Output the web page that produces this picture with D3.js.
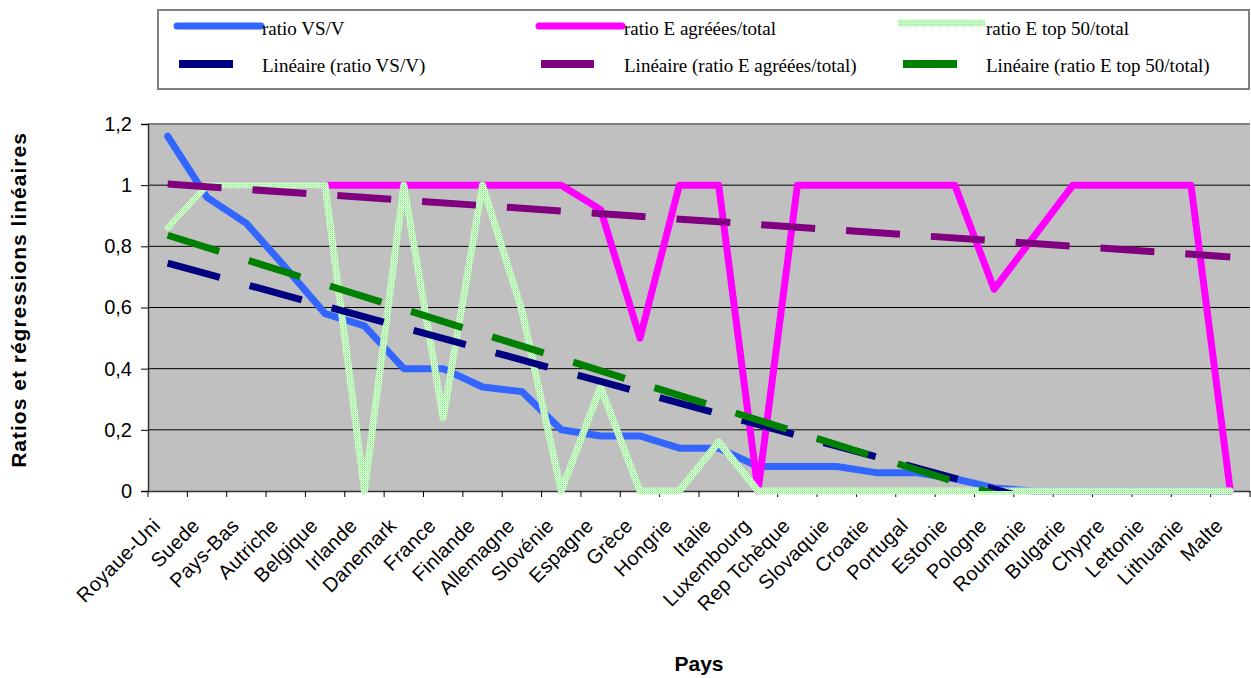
<!DOCTYPE html>
<html><head><meta charset="utf-8">
<script src="https://cdn.jsdelivr.net/npm/d3@7"></script>
<style>body{margin:0;background:#fff} svg{display:block}</style>
</head><body>
<svg id="c" width="1251" height="678"></svg>
<script>
const categories = ["Royaue-Uni","Suede","Pays-Bas","Autriche","Belgique","Irlande","Danemark","France","Finlande","Allemagne","Slovénie","Espagne","Grèce","Hongrie","Italie","Luxembourg","Rep Tchèque","Slovaquie","Croatie","Portugal","Estonie","Pologne","Roumanie","Bulgarie","Chypre","Lettonie","Lithuanie","Malte"];
const ratioVSV = [1.16,0.96,0.875,0.73,0.58,0.54,0.40,0.40,0.34,0.325,0.20,0.18,0.18,0.14,0.14,0.08,0.08,0.08,0.06,0.06,0.04,0.01,0,0,0,0,0,0];
const ratioEAgreees = [0.86,1,1,1,1,1,1,1,1,1,1,0.92,0.50,1,1,0,1,1,1,1,1,0.66,0.83,1,1,1,1,0];
const ratioETop50 = [0.86,1,1,1,1,0,1,0.24,1,0.59,0,0.34,0,0,0.16,0,0,0,0,0,0,0,0,0,0,0,0,0];
const yTicks = [0,0.2,0.4,0.6,0.8,1,1.2];
const seriesNames = ["ratio VS/V","ratio E agréées/total","ratio E top 50/total"];
const trendNames = ["Linéaire (ratio VS/V)","Linéaire (ratio E agréées/total)","Linéaire (ratio E top 50/total)"];
const yTitle = "Ratios et régressions linéaires";
const xTitle = "Pays";

const svg = d3.select("#c");
const L = 148, R = 1250, T = 124, B = 491;
const x = d3.scaleBand().domain(categories).range([L, R]).paddingInner(0).paddingOuter(0);
const cx = c => x(c) + x.bandwidth()/2;
const y = d3.scaleLinear().domain([0, 1.2]).range([B, T]);

const defs = svg.append("defs");
const pat = defs.append("pattern").attr("id","lg").attr("width",2).attr("height",2).attr("patternUnits","userSpaceOnUse");
pat.append("rect").attr("width",2).attr("height",2).attr("fill","#d8ffd4");
pat.append("rect").attr("width",1).attr("height",1).attr("fill","#8fe88f");
pat.append("rect").attr("x",1).attr("y",1).attr("width",1).attr("height",1).attr("fill","#c0f7b8");
defs.append("clipPath").attr("id","pc").append("rect").attr("x",L).attr("y",T).attr("width",R-L).attr("height",B-T);

// plot background
svg.append("rect").attr("x",L).attr("y",T).attr("width",R-L).attr("height",B-T).attr("fill","#c0c0c0");
// gridlines
svg.append("g").selectAll("line").data(yTicks.filter(v=>v>0 && v<1.2)).join("line")
  .attr("x1",L).attr("x2",R).attr("y1",d=>y(d)).attr("y2",d=>y(d)).attr("stroke","#000").attr("stroke-width",1);
// top border
svg.append("line").attr("x1",L).attr("x2",R).attr("y1",T).attr("y2",T).attr("stroke","#808080").attr("stroke-width",2);

// y axis
const fmt = d => d === 0 ? "0" : String(+d.toFixed(1)).replace(".", ",");
const yAxis = svg.append("g").attr("transform",`translate(${L},0)`)
  .call(d3.axisLeft(y).tickValues(yTicks).tickFormat(fmt).tickSize(7).tickPadding(9));
yAxis.select(".domain").attr("stroke","#333").attr("stroke-width",1.5);
yAxis.selectAll(".tick line").attr("stroke","#000");
yAxis.selectAll("text").attr("font-family","Liberation Sans, Arial, sans-serif").attr("font-size",20).attr("fill","#000");

// x axis
const xAxis = svg.append("g").attr("transform",`translate(0,${B})`)
  .call(d3.axisBottom(x).tickSize(0).tickPadding(0));
xAxis.select(".domain").attr("stroke","#333").attr("stroke-width",1.5);
xAxis.selectAll(".tick text")
  .attr("font-family","Liberation Sans, Arial, sans-serif").attr("font-size",20).attr("fill","#000")
  .attr("letter-spacing","0.3px")
  .attr("text-anchor","end")
  .attr("transform","translate(-16,26) rotate(-45)")
  .attr("dy","0.7em").attr("dx","0");
const bounds = categories.map(c => x(c)).concat([R]);
svg.append("g").selectAll("line").data(bounds).join("line")
  .attr("x1",d=>d).attr("x2",d=>d).attr("y1",B).attr("y2",B+6).attr("stroke","#000");

// series lines
const line = d3.line().x((d,i)=>cx(categories[i])).y(d=>y(d)).curve(d3.curveLinear);
const series = [
  {v: ratioVSV, stroke:"#3366ff"},
  {v: ratioEAgreees, stroke:"#ff00ff"},
  {v: ratioETop50, stroke:"url(#lg)"}
];
svg.append("g").selectAll("path").data(series).join("path")
  .attr("d", d=>line(d.v)).attr("fill","none").attr("stroke",d=>d.stroke)
  .attr("stroke-width",7).attr("stroke-linejoin","round").attr("stroke-linecap","round");

// linear trend lines (least squares over x = 1..n)
function linreg(vals){
  const xs = vals.map((_,i)=>i+1);
  const mx = d3.mean(xs), my = d3.mean(vals);
  const b = d3.sum(xs.map((xi,i)=>(xi-mx)*(vals[i]-my))) / d3.sum(xs.map(xi=>(xi-mx)*(xi-mx)));
  return {a: my - b*mx, b};
}
const trends = [
  {v: ratioVSV, stroke:"#000080"},
  {v: ratioEAgreees, stroke:"#800080"},
  {v: ratioETop50, stroke:"#008000"}
];
const tg = svg.append("g").attr("clip-path","url(#pc)");
trends.forEach(t => {
  const r = linreg(t.v);
  const pts = [0, categories.length-1].map(i => [cx(categories[i]), y(r.a + r.b*(i+1))]);
  tg.append("path").attr("d", d3.line()(pts)).attr("fill","none").attr("stroke",t.stroke)
    .attr("stroke-width",7).attr("stroke-dasharray","54,31").attr("stroke-linecap","butt");
});

// legend
svg.append("rect").attr("x",158).attr("y",10).attr("width",1091).attr("height",79)
  .attr("fill","#fff").attr("stroke","#808080").attr("stroke-width",2);
const lg = svg.append("g").attr("font-family","Liberation Serif, Times New Roman, serif").attr("font-size",19).attr("fill","#000");
const colX = [262, 624, 986];
const row1 = [
  {x1:177,x2:261,stroke:"#3366ff",cap:"round"},
  {x1:539,x2:622,stroke:"#ff00ff",cap:"round"},
  {x1:898,x2:985,stroke:"url(#lg)",cap:"butt"}
];
row1.forEach((s,i)=>{
  lg.append("line").attr("x1",s.x1).attr("x2",s.x2).attr("y1",i===2?23:26).attr("y2",i===2?23:26)
    .attr("stroke",s.stroke).attr("stroke-width",7).attr("stroke-linecap",s.cap);
  lg.append("text").attr("x",colX[i]).attr("y",35).text(seriesNames[i]);
});
const row2 = [{x1:179,x2:233,stroke:"#000080"},{x1:541,x2:594,stroke:"#800080"},{x1:903,x2:957,stroke:"#008000"}];
row2.forEach((s,i)=>{
  lg.append("line").attr("x1",s.x1).attr("x2",s.x2).attr("y1",64).attr("y2",64)
    .attr("stroke",s.stroke).attr("stroke-width",8);
  lg.append("text").attr("x",colX[i]).attr("y",72).text(trendNames[i]);
});

// axis titles
svg.append("text").attr("transform","translate(26,300) rotate(-90)").attr("text-anchor","middle")
  .attr("font-family","Liberation Sans, Arial, sans-serif").attr("font-weight","bold").attr("font-size",21)
  .attr("letter-spacing","1px")
  .text(yTitle);
svg.append("text").attr("x",(L+R)/2).attr("y",671).attr("text-anchor","middle")
  .attr("font-family","Liberation Sans, Arial, sans-serif").attr("font-weight","bold").attr("font-size",21)
  .text(xTitle);
</script>
</body></html>
